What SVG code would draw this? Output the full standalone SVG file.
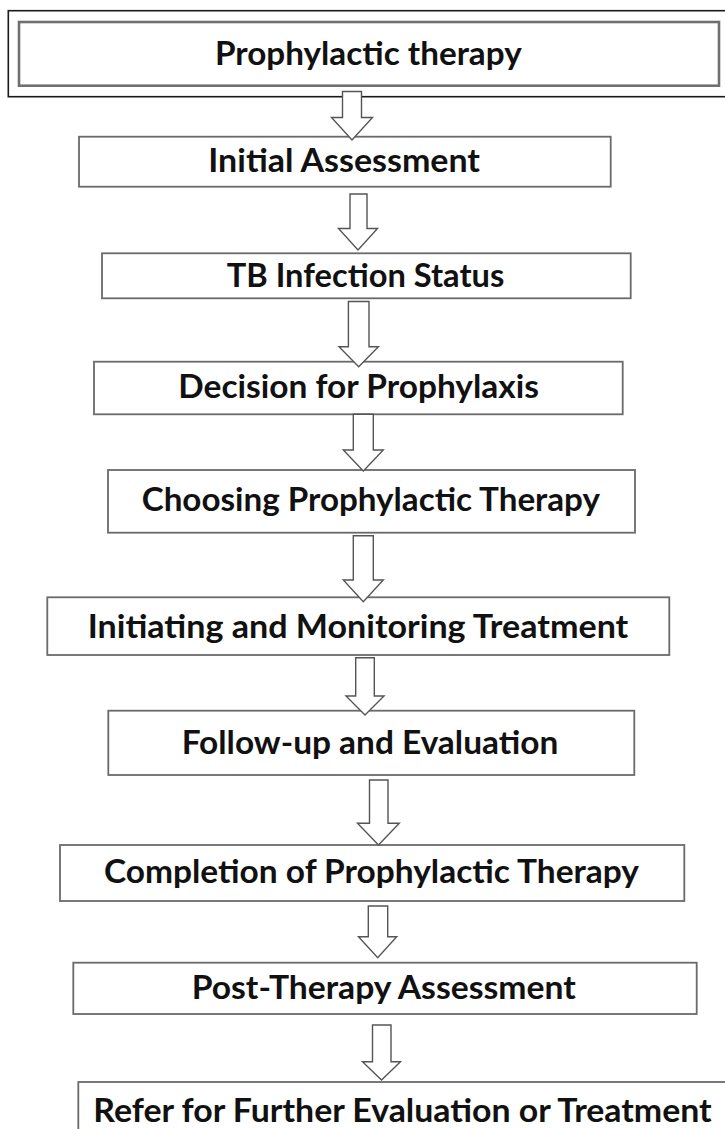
<svg xmlns="http://www.w3.org/2000/svg" width="725" height="1129" viewBox="0 0 725 1129">
<style>
  .bg { fill: #ffffff; }
  .box { fill: #ffffff; stroke: #6a6a6a; stroke-width: 1.8; }
  .outer { fill: #ffffff; stroke: #1a1a1a; stroke-width: 1.6; }
  .inner { fill: none; stroke: #707070; stroke-width: 2.6; }
  .lbl { font-family: Lato, "Open Sans", "Liberation Sans", sans-serif; font-weight: 700; font-size: 32px; fill: #111111; }
  .arrow { fill: #ffffff; stroke: #555555; stroke-width: 1.4; stroke-linejoin: miter; }
</style>
<rect class="bg" x="0" y="0" width="725" height="1129"/>

<g id="node-prophylactic-therapy">
  <rect class="outer" x="8.3" y="10.7" width="720" height="86"/>
  <rect class="inner" x="19" y="22" width="700" height="63.7"/>
  <text class="lbl" x="215" y="64.5" textLength="306.7" lengthAdjust="spacingAndGlyphs">Prophylactic therapy</text>
</g>

<g id="node-initial-assessment">
  <rect class="box" x="79" y="136.7" width="531.7" height="50"/>
  <text class="lbl" x="208.3" y="171.7" textLength="271.7" lengthAdjust="spacingAndGlyphs">Initial Assessment</text>
</g>

<g id="node-tb-infection-status">
  <rect class="box" x="102" y="253.3" width="528.7" height="45"/>
  <text class="lbl" x="226.7" y="287.3" textLength="277.6" lengthAdjust="spacingAndGlyphs">TB Infection Status</text>
</g>

<g id="node-decision">
  <rect class="box" x="94" y="361.7" width="528.7" height="52.6"/>
  <text class="lbl" x="178.3" y="398.3" textLength="360.7" lengthAdjust="spacingAndGlyphs">Decision for Prophylaxis</text>
</g>

<g id="node-choosing">
  <rect class="box" x="108" y="470" width="527" height="62.7"/>
  <text class="lbl" x="141.7" y="511" textLength="458.3" lengthAdjust="spacingAndGlyphs">Choosing Prophylactic Therapy</text>
</g>

<g id="node-initiating">
  <rect class="box" x="47.3" y="597.3" width="622" height="57.7"/>
  <text class="lbl" x="87.7" y="637.7" textLength="540.6" lengthAdjust="spacingAndGlyphs">Initiating and Monitoring Treatment</text>
</g>

<g id="node-follow-up">
  <rect class="box" x="108.3" y="710.7" width="526" height="64.3"/>
  <text class="lbl" x="181.7" y="754.3" textLength="376.6" lengthAdjust="spacingAndGlyphs">Follow-up and Evaluation</text>
</g>

<g id="node-completion">
  <rect class="box" x="60" y="845" width="624.3" height="56"/>
  <text class="lbl" x="104" y="883.3" textLength="535" lengthAdjust="spacingAndGlyphs">Completion of Prophylactic Therapy</text>
</g>

<g id="node-post-therapy">
  <rect class="box" x="73.3" y="962.7" width="623.4" height="51.3"/>
  <text class="lbl" x="191.7" y="999.3" textLength="384" lengthAdjust="spacingAndGlyphs">Post-Therapy Assessment</text>
</g>

<g id="node-refer">
  <rect class="box" x="78.3" y="1082" width="660" height="60"/>
  <text class="lbl" x="93.3" y="1121.5" textLength="618.4" lengthAdjust="spacingAndGlyphs">Refer for Further Evaluation or Treatment</text>
</g>

<g id="connectors">
  <path class="arrow" d="M342.5,91.5 H361.5 V117.5 H372.5 L352,140 L331.5,117.5 H342.5 Z"/>
  <path class="arrow" d="M350,194 H367 V228.5 H377.5 L358,250 L338.5,228.5 H350 Z"/>
  <path class="arrow" d="M348.4,301.5 H369 V346.7 H378.4 L358.7,366.7 L339,346.7 H348.4 Z"/>
  <path class="arrow" d="M353.3,414.3 H373.3 V450 H383.3 L363.3,471 L343.3,450 H353.3 Z"/>
  <path class="arrow" d="M353.3,535.7 H373.3 V580 H383.3 L363.3,601.7 L343.3,580 H353.3 Z"/>
  <path class="arrow" d="M355.7,657.7 H374.3 V696 H384 L365,715 L346,696 H355.7 Z"/>
  <path class="arrow" d="M369.5,780 H388 V823.3 H399.3 L378.5,845 L357.5,823.3 H369.5 Z"/>
  <path class="arrow" d="M368.3,906 H387.7 V936.7 H396.7 L377.7,957.7 L358.5,936.7 H368.3 Z"/>
  <path class="arrow" d="M372.5,1025 H391 V1061.7 H400.5 L381.5,1080 L362.5,1061.7 H372.5 Z"/>
</g>
</svg>
